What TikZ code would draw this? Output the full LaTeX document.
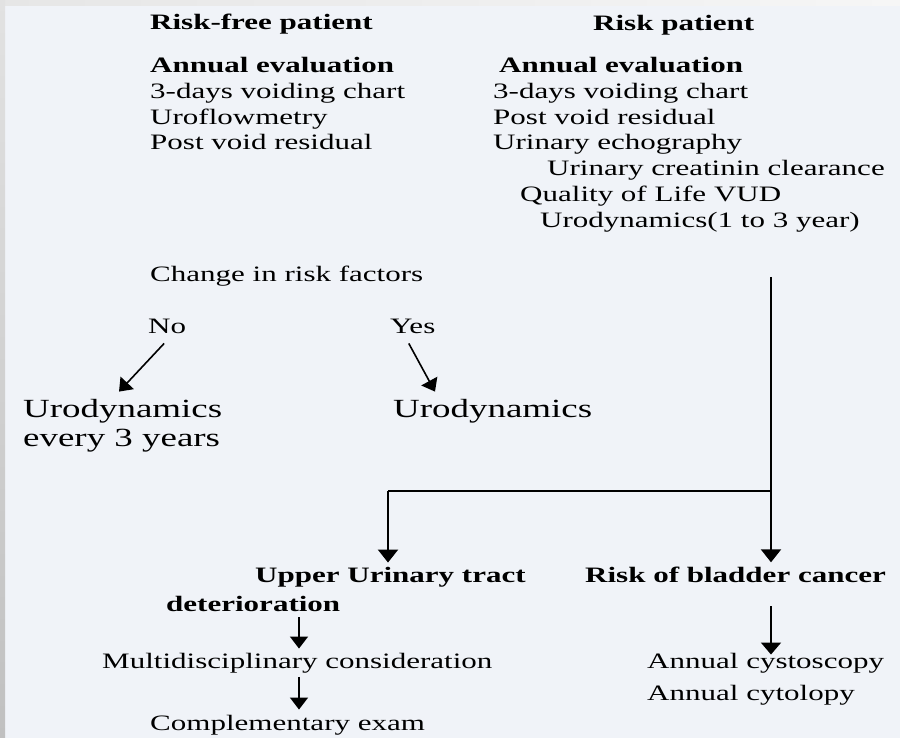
\documentclass[tikz,border=0pt]{standalone}
\usepackage{fontspec}
\setmainfont[FakeStretch=1.41]{Liberation Serif}
\usetikzlibrary{arrows.meta,calc}
\definecolor{bg}{RGB}{240,243,248}
\definecolor{stripA}{RGB}{230,230,230}
\definecolor{stripB}{RGB}{246,246,246}
\definecolor{sideA}{RGB}{226,226,226}
\definecolor{sideB}{RGB}{192,192,192}
\begin{document}
\begin{tikzpicture}[x=1pt,y=-1pt,
  txt/.style={anchor=base west,inner sep=0pt,text=black,font=\fontsize{22}{25.5}\selectfont},
  bld/.style={txt,font=\fontsize{22}{25.5}\selectfont\bfseries},
  big/.style={anchor=base west,inner sep=0pt,text=black,font=\fontsize{26.2}{29}\selectfont},
  heavyarr/.style={line width=2.2pt,-{Triangle[width=20pt,length=13pt]}},
  heavyline/.style={line width=2.2pt},
  slimarr/.style={line width=1.6pt,-{Triangle[width=18pt,length=12pt]}}]
\useasboundingbox (0,0) rectangle (900,738);
% background
\fill[bg] (0,0) rectangle (900,738);
\shade[left color=stripA,right color=stripB] (0,0) rectangle (900,6);
\shade[top color=sideA,bottom color=sideB] (0,0) rectangle (5,738);

% left column
\node[bld] (rfp) at (150,30) {Risk-free patient};
\node[bld] (ae1) at (150,73) {Annual evaluation};
\node[txt] (l1a) at (150,99) {3-days voiding chart};
\node[txt] (l1b) at (150,124.5) {Uroflowmetry};
\node[txt] (l1c) at (150,150) {Post void residual};

% right column
\node[bld] (rp) at (593,31) {Risk patient};
\node[bld] (ae2) at (499,73) {Annual evaluation};
\node[txt] (r1) at (493,99) {3-days voiding chart};
\node[txt] (r2) at (493,124.5) {Post void residual};
\node[txt] (r3) at (493,150) {Urinary echography};
\node[txt] (r4) at (547,176) {Urinary creatinin clearance};
\node[txt] (r5) at (520,202) {Quality of Life VUD};
\node[txt] (r6) at (540,228) {Urodynamics(1 to 3 year)};

% change in risk factors
\node[txt] (crf) at (150,282) {Change in risk factors};
\node[txt] (no) at (148,333) {No};
\node[txt] (yes) at (390,333) {Yes};
\node[big] (ud1) at (23,417) {Urodynamics};
\node[big] (ud1b) at (23,446) {every 3 years};
\node[big] (ud2) at (393,417) {Urodynamics};

% lower part
\node[bld] (uut) at (255,582) {Upper Urinary tract};
\node[bld] (det) at (166,611) {deterioration};
\node[bld] (rbc) at (585,582) {Risk of bladder cancer};
\node[txt] (mc) at (102,668) {Multidisciplinary consideration};
\node[txt] (ce) at (150,730) {Complementary exam};
\node[txt] (acs) at (647,668) {Annual cystoscopy};
\node[txt] (acy) at (647,700) {Annual cytolopy};

% connectors
\draw[slimarr] ($(no.south)+(-3,10)$) -- ($(ud1.north)+(-3.7,-7)$);
\draw[slimarr] ($(yes.south)+(-4,10)$) -- ($(ud2.north west)+(42,-7)$);

\coordinate (top) at (771,277);
\coordinate (junc) at (771,491);
\coordinate (lbend) at (388,491);
\coordinate (cx) at (299,0);
\draw[heavyarr,shorten >=4pt] (top) -- (top |- rbc.north);
\draw[heavyline] (junc) -- (lbend);
\draw[heavyarr,shorten >=4pt] (lbend) -- (lbend |- uut.north);
\draw[slimarr] ([yshift=-6pt]det.south -| cx) -- ([yshift=4pt]mc.north -| cx);
\draw[slimarr] ([yshift=-4pt]mc.south -| cx) -- ([yshift=5pt]ce.north -| cx);
\draw[slimarr,line width=1.8pt,-{Triangle[width=20pt,length=12pt]}] ([yshift=-24pt]rbc.south -| top) -- ([yshift=-2pt]acs.north -| top);
\end{tikzpicture}
\end{document}
